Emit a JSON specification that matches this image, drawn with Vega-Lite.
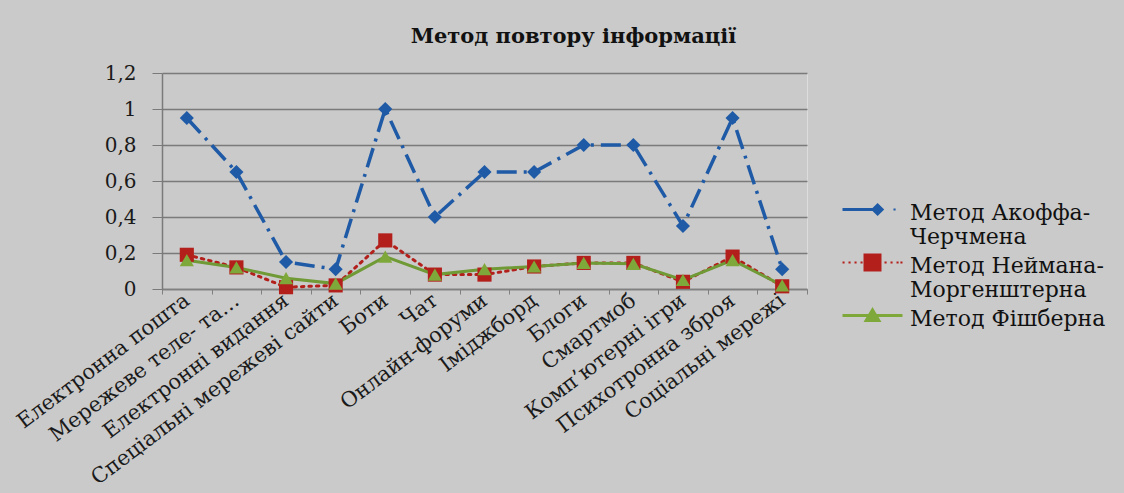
{
  "$schema": "https://vega.github.io/schema/vega-lite/v6.json",
  "autosize": "none",
  "width": 645,
  "height": 216,
  "padding": {"left": 162, "top": 73, "right": 317, "bottom": 204},
  "background": "#cacaca",
  "title": {
    "text": "Метод повтору інформації",
    "font": "DejaVu Serif",
    "fontSize": 21,
    "fontWeight": "bold",
    "color": "#111111",
    "anchor": "middle",
    "dx": 89,
    "offset": 16
  },
  "data": {
    "values": [
      {"cat": "Електронна пошта", "method": "Метод Акоффа-Черчмена", "v": 0.95},
      {"cat": "Мережеве теле- та…", "method": "Метод Акоффа-Черчмена", "v": 0.65},
      {"cat": "Електронні видання", "method": "Метод Акоффа-Черчмена", "v": 0.15},
      {"cat": "Спеціальні мережеві сайти", "method": "Метод Акоффа-Черчмена", "v": 0.11},
      {"cat": "Боти", "method": "Метод Акоффа-Черчмена", "v": 1.0},
      {"cat": "Чат", "method": "Метод Акоффа-Черчмена", "v": 0.4},
      {"cat": "Онлайн-форуми", "method": "Метод Акоффа-Черчмена", "v": 0.65},
      {"cat": "Іміджборд", "method": "Метод Акоффа-Черчмена", "v": 0.65},
      {"cat": "Блоги", "method": "Метод Акоффа-Черчмена", "v": 0.8},
      {"cat": "Смартмоб", "method": "Метод Акоффа-Черчмена", "v": 0.8},
      {"cat": "Комп’ютерні ігри", "method": "Метод Акоффа-Черчмена", "v": 0.35},
      {"cat": "Психотронна зброя", "method": "Метод Акоффа-Черчмена", "v": 0.95},
      {"cat": "Соціальні мережі", "method": "Метод Акоффа-Черчмена", "v": 0.11},
      {"cat": "Електронна пошта", "method": "Метод Неймана-Моргенштерна", "v": 0.19},
      {"cat": "Мережеве теле- та…", "method": "Метод Неймана-Моргенштерна", "v": 0.12},
      {"cat": "Електронні видання", "method": "Метод Неймана-Моргенштерна", "v": 0.01},
      {"cat": "Спеціальні мережеві сайти", "method": "Метод Неймана-Моргенштерна", "v": 0.02},
      {"cat": "Боти", "method": "Метод Неймана-Моргенштерна", "v": 0.27},
      {"cat": "Чат", "method": "Метод Неймана-Моргенштерна", "v": 0.08},
      {"cat": "Онлайн-форуми", "method": "Метод Неймана-Моргенштерна", "v": 0.08},
      {"cat": "Іміджборд", "method": "Метод Неймана-Моргенштерна", "v": 0.125},
      {"cat": "Блоги", "method": "Метод Неймана-Моргенштерна", "v": 0.145},
      {"cat": "Смартмоб", "method": "Метод Неймана-Моргенштерна", "v": 0.145},
      {"cat": "Комп’ютерні ігри", "method": "Метод Неймана-Моргенштерна", "v": 0.04},
      {"cat": "Психотронна зброя", "method": "Метод Неймана-Моргенштерна", "v": 0.18},
      {"cat": "Соціальні мережі", "method": "Метод Неймана-Моргенштерна", "v": 0.015},
      {"cat": "Електронна пошта", "method": "Метод Фішберна", "v": 0.16},
      {"cat": "Мережеве теле- та…", "method": "Метод Фішберна", "v": 0.12},
      {"cat": "Електронні видання", "method": "Метод Фішберна", "v": 0.06},
      {"cat": "Спеціальні мережеві сайти", "method": "Метод Фішберна", "v": 0.03},
      {"cat": "Боти", "method": "Метод Фішберна", "v": 0.18},
      {"cat": "Чат", "method": "Метод Фішберна", "v": 0.08},
      {"cat": "Онлайн-форуми", "method": "Метод Фішберна", "v": 0.11},
      {"cat": "Іміджборд", "method": "Метод Фішберна", "v": 0.125},
      {"cat": "Блоги", "method": "Метод Фішберна", "v": 0.145},
      {"cat": "Смартмоб", "method": "Метод Фішберна", "v": 0.14},
      {"cat": "Комп’ютерні ігри", "method": "Метод Фішберна", "v": 0.05},
      {"cat": "Психотронна зброя", "method": "Метод Фішберна", "v": 0.16},
      {"cat": "Соціальні мережі", "method": "Метод Фішберна", "v": 0.02}
    ]
  },
  "encoding": {
    "x": {
      "field": "cat",
      "type": "nominal",
      "sort": null,
      "scale": {"type": "band", "paddingInner": 0, "paddingOuter": 0},
      "axis": {
        "title": null,
        "labelAngle": -37,
        "labelAlign": "right",
        "labelBaseline": "middle",
        "labelFont": "DejaVu Serif",
        "labelFontSize": 21,
        "labelColor": "#1a1a1a",
        "labelPadding": 4,
        "labelLimit": 400,
        "tickBand": "extent",
        "tickSize": 5,
        "tickColor": "#808080",
        "domainColor": "#808080",
        "domainWidth": 1.5,
        "grid": false
      }
    },
    "y": {
      "field": "v",
      "type": "quantitative",
      "scale": {"domain": [0, 1.2], "nice": false},
      "axis": {
        "title": null,
        "values": [0, 0.2, 0.4, 0.6, 0.8, 1, 1.2],
        "labelExpr": "replace(format(datum.value, '~g'), '.', ',')",
        "labelFont": "DejaVu Serif",
        "labelFontSize": 20,
        "labelColor": "#1a1a1a",
        "labelPadding": 16,
        "tickSize": 10,
        "tickColor": "#7a7a7a",
        "domainColor": "#7a7a7a",
        "domainWidth": 1.5,
        "grid": true,
        "gridColor": "#7a7a7a",
        "gridWidth": 1.5
      }
    }
  },
  "resolve": {"scale": {"color": "independent", "shape": "independent"}},
  "layer": [
    {
      "transform": [{"filter": "datum.method == 'Метод Акоффа-Черчмена'"}],
      "mark": {"type": "line", "strokeWidth": 3.5, "strokeDash": [20, 7, 3, 7], "color": "#1f5aa6"},
      "encoding": {}
    },
    {
      "transform": [{"filter": "datum.method == 'Метод Неймана-Моргенштерна'"}],
      "mark": {"type": "line", "strokeWidth": 3, "strokeDash": [2.5, 5], "strokeCap": "round", "color": "#b3201c"},
      "encoding": {}
    },
    {
      "transform": [{"filter": "datum.method == 'Метод Фішберна'"}],
      "mark": {"type": "line", "strokeWidth": 3, "color": "#6f9a35"},
      "encoding": {}
    },
    {
      "mark": {"type": "point", "filled": true, "opacity": 1, "size": 200},
      "encoding": {
        "color": {
          "field": "method",
          "type": "nominal",
          "scale": {
            "domain": ["Метод Акоффа-Черчмена", "Метод Неймана-Моргенштерна", "Метод Фішберна"],
            "range": ["#1f5aa6", "#b3201c", "#7fa83a"]
          },
          "legend": null
        },
        "shape": {
          "field": "method",
          "type": "nominal",
          "scale": {
            "domain": ["Метод Акоффа-Черчмена", "Метод Неймана-Моргенштерна", "Метод Фішберна"],
            "range": ["diamond", "square", "triangle-up"]
          },
          "legend": null
        }
      }
    },
    {
      "mark": {"type": "point", "filled": true, "opacity": 0, "size": 10},
      "encoding": {
        "color": {
          "field": "method",
          "type": "nominal",
          "scale": {
            "domain": ["Метод Акоффа-Черчмена", "Метод Неймана-Моргенштерна", "Метод Фішберна"],
            "range": ["#1f5aa6", "#b3201c", "#7fa83a"]
          },
          "legend": {
            "title": null,
            "orient": "none",
            "legendX": 688,
            "legendY": 124,
            "direction": "vertical",
            "labelFont": "DejaVu Serif",
            "labelFontSize": 22,
            "labelColor": "#111111",
            "labelOffset": 15,
            "labelLimit": 320,
            "labelBaseline": "alphabetic",
            "rowPadding": 2,
            "symbolSize": 2025,
            "symbolOpacity": 1,
            "symbolStrokeWidth": 0,
            "labelExpr": "datum.label == 'Метод Акоффа-Черчмена' ? ['Метод Акоффа-', 'Черчмена'] : datum.label == 'Метод Неймана-Моргенштерна' ? ['Метод Неймана-', 'Моргенштерна'] : datum.label"
          }
        },
        "shape": {
          "field": "method",
          "type": "nominal",
          "scale": {
            "domain": ["Метод Акоффа-Черчмена", "Метод Неймана-Моргенштерна", "Метод Фішберна"],
            "range": [
              "M-1.333,-0.51L0.133,-0.51L0.133,-0.377L-1.333,-0.377Z M0.227,-0.737L0.52,-0.444L0.227,-0.151L-0.067,-0.444Z M0.933,-0.49L1.027,-0.49L1.027,-0.397L0.933,-0.397Z",
              "M-1.333,-0.49L-1.24,-0.49L-1.24,-0.397L-1.333,-0.397Z M-1.067,-0.49L-0.973,-0.49L-0.973,-0.397L-1.067,-0.397Z M-0.8,-0.49L-0.707,-0.49L-0.707,-0.397L-0.8,-0.397Z M-0.533,-0.49L-0.44,-0.49L-0.44,-0.397L-0.533,-0.397Z M-0.4,-0.844L0.4,-0.844L0.4,-0.044L-0.4,-0.044Z M0.533,-0.49L0.627,-0.49L0.627,-0.397L0.533,-0.397Z M0.8,-0.49L0.893,-0.49L0.893,-0.397L0.8,-0.397Z M1.067,-0.49L1.16,-0.49L1.16,-0.397L1.067,-0.397Z M1.24,-0.49L1.333,-0.49L1.333,-0.397L1.24,-0.397Z",
              "M-1.333,-0.511L1.333,-0.511L1.333,-0.377L-1.333,-0.377Z M0,-0.817L0.4,-0.151L-0.4,-0.151Z"
            ]
          },
          "legend": {
            "title": null,
            "orient": "none",
            "legendX": 688,
            "legendY": 124,
            "direction": "vertical",
            "labelFont": "DejaVu Serif",
            "labelFontSize": 22,
            "labelColor": "#111111",
            "labelOffset": 15,
            "labelLimit": 320,
            "labelBaseline": "alphabetic",
            "rowPadding": 2,
            "symbolSize": 2025,
            "symbolOpacity": 1,
            "symbolStrokeWidth": 0,
            "labelExpr": "datum.label == 'Метод Акоффа-Черчмена' ? ['Метод Акоффа-', 'Черчмена'] : datum.label == 'Метод Неймана-Моргенштерна' ? ['Метод Неймана-', 'Моргенштерна'] : datum.label"
          }
        }
      }
    }
  ]
}
